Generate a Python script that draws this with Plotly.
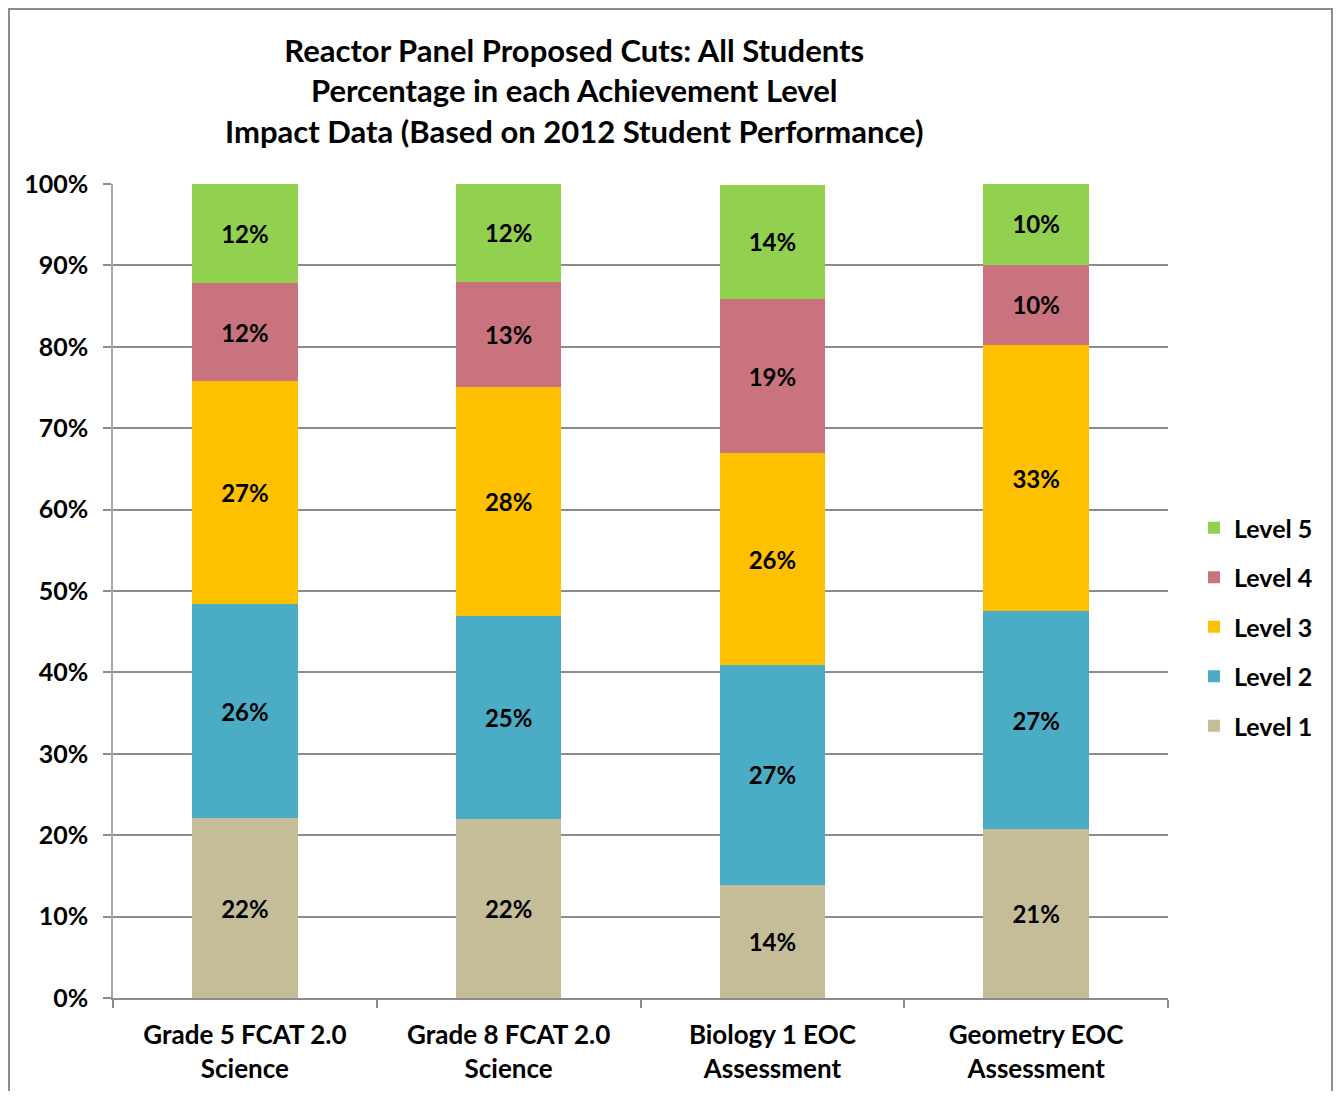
import plotly.graph_objects as go

categories = ["Grade 5 FCAT 2.0<br>Science", "Grade 8 FCAT 2.0<br>Science",
              "Biology 1 EOC<br>Assessment", "Geometry EOC<br>Assessment"]
level1 = [22.1, 22.0, 13.9, 20.8]
level2 = [26.3, 24.9, 27.0, 26.7]
level3 = [27.4, 28.2, 26.0, 32.7]
level4 = [12.0, 12.9, 19.0, 9.9]
level5 = [12.2, 12.0, 14.0, 10.0]
series_names = ["Level 1", "Level 2", "Level 3", "Level 4", "Level 5"]
colors = ["#C4BD97", "#4BACC6", "#FFC000", "#C9737F", "#92D050"]
title_lines = ["Reactor Panel Proposed Cuts: All Students",
               "Percentage in each Achievement Level",
               "Impact Data (Based on 2012 Student Performance)"]

FONT = "Lato"
OFF = 8  # page body margin
W, H = 1341 - 2 * OFF, 1099 - 2 * OFF
L, T = 113 - OFF, 184 - OFF
R, B = W - (1168 - OFF), H - (998 - OFF)
pw, ph = W - L - R, H - T - B

def px_x(x):  # screen x -> paper
    return (x - OFF - L) / pw

def px_y(y):  # screen y -> paper
    return ((998 - OFF) - (y - OFF)) / ph

fig = go.Figure()
for i, (name, vals, col) in enumerate(zip(series_names, [level1, level2, level3, level4, level5], colors)):
    fig.add_trace(go.Bar(
        x=categories, y=vals, name=name, marker=dict(color=col, line=dict(width=0)),
        text=[f"{round(v):d}%" for v in vals], textposition="inside",
        insidetextanchor="middle", constraintext="none",
        textfont=dict(family=FONT, size=24, color="black", weight="bold"),
        legendgroup=name, legendrank=5 - i, hoverinfo="skip"))

fig.update_layout(
    width=W, height=H, barmode="stack", bargap=0.6,
    margin=dict(l=L, r=R, t=T, b=B, autoexpand=False),
    paper_bgcolor="white", plot_bgcolor="white",
    font=dict(family=FONT, size=22, color="black", weight="bold"),
    showlegend=True,
    legend=dict(x=px_x(1194), xanchor="left", y=px_y(627), yanchor="middle",
                traceorder="grouped", tracegroupgap=14,
                font=dict(family=FONT, size=25, color="black", weight="bold"),
                itemwidth=30),
)
fig.update_yaxes(range=[0, 100], tickvals=list(range(0, 101, 10)),
                 ticktext=[f"{v}%" for v in range(0, 101, 10)],
                 showgrid=True, gridcolor="#8C8C8C", gridwidth=1.5,
                 showline=True, linecolor="#A6A6A6", linewidth=1.5,
                 ticks="outside", ticklen=8, tickcolor="#8C8C8C", tickwidth=1.5,
                 ticklabelstandoff=10, zeroline=False,
                 tickfont=dict(family=FONT, size=25, color="black", weight="bold"))
fig.update_xaxes(showline=True, linecolor="#8C8C8C", linewidth=1.5,
                 ticks="outside", tickson="boundaries", ticklen=8,
                 tickcolor="#8C8C8C", tickwidth=1.5, ticklabelstandoff=13,
                 tickfont=dict(family=FONT, size=26, color="black", weight="bold"))

# Title
fig.add_annotation(text="<br>".join(title_lines), xref="paper", yref="paper",
                   x=px_x(574), y=px_y(29), xanchor="center", yanchor="top",
                   showarrow=False, align="center",
                   font=dict(family=FONT, size=31, color="black", weight="bold"))

# Outer chart frame
fig.add_shape(type="rect", xref="paper", yref="paper",
              x0=px_x(OFF + 1), x1=px_x(OFF + W - 1), y0=px_y(1110), y1=px_y(OFF + 1),
              line=dict(color="#8C8C8C", width=2), layer="below")

fig.write_html("out.html")
